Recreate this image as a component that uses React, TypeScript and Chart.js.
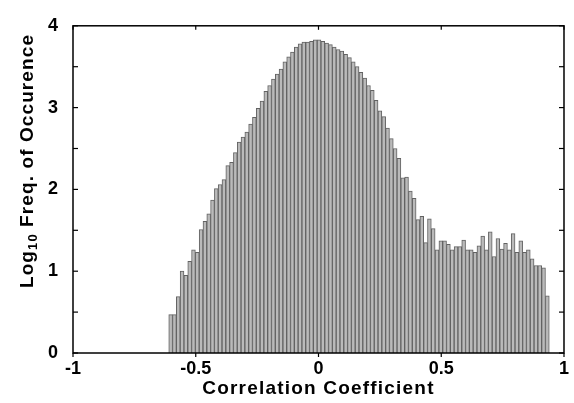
import React, { useEffect, useRef } from 'react';
import { Chart, registerables } from 'chart.js';

Chart.register(...registerables);

// Histogram bins (left edge of first bin and bin width, in correlation units)
const binStart = -0.61;
const binWidth = 0.0155;

// log10 frequency of occurrence per bin
const logFreq = [
  0.47, 0.47, 0.69, 1.0, 0.95, 1.12, 1.26, 1.23, 1.51, 1.61,
  1.7, 1.87, 2.01, 2.06, 2.12, 2.29, 2.33, 2.45, 2.58, 2.64,
  2.7, 2.8, 2.88, 2.99, 3.08, 3.2, 3.27, 3.35, 3.41, 3.47,
  3.56, 3.62, 3.68, 3.74, 3.78, 3.8, 3.8, 3.81, 3.83, 3.83,
  3.81, 3.79, 3.77, 3.74, 3.71, 3.69, 3.65, 3.61, 3.56, 3.5,
  3.43, 3.36, 3.27, 3.21, 3.09, 2.96, 2.89, 2.75, 2.62, 2.5,
  2.38, 2.14, 2.15, 1.98, 1.89, 1.63, 1.67, 1.35, 1.64, 1.52,
  1.26, 1.37, 1.37, 1.33, 1.26, 1.3, 1.3, 1.38, 1.26, 1.26,
  1.23, 1.31, 1.43, 1.26, 1.48, 1.18, 1.4, 1.27, 1.34, 1.26,
  1.46, 1.23, 1.37, 1.23, 1.26, 1.15, 1.07, 1.07, 1.04, 0.7,
];

const xTickValues = [-1, -0.5, 0, 0.5, 1];
const yMinorTickValues = [0, 0.5, 1, 1.5, 2, 2.5, 3, 3.5, 4];
const xTitle = 'Correlation Coefficient';
const yTitleMain = 'Log';
const yTitleSub = '10';
const yTitleRest = ' Freq. of Occurence';

const FONT = '"Liberation Sans", Arial, Helvetica, sans-serif';

export default function App() {
  const ref = useRef<HTMLCanvasElement>(null);

  useEffect(() => {
    document.body.style.margin = '0';
    const canvas = ref.current;
    if (!canvas) return;

    const points = logFreq.map((v, i) => ({ x: binStart + (i + 0.5) * binWidth, y: v }));

    const framePlugin = {
      id: 'frame',
      afterDraw(chart: any) {
        const { ctx, chartArea: a, scales } = chart;
        ctx.save();
        ctx.strokeStyle = '#000';
        ctx.lineWidth = 1.5;
        ctx.strokeRect(a.left, a.top, a.right - a.left, a.bottom - a.top);
        ctx.lineWidth = 1.2;
        const seg = (x1: number, y1: number, x2: number, y2: number) => {
          ctx.beginPath();
          ctx.moveTo(x1, y1);
          ctx.lineTo(x2, y2);
          ctx.stroke();
        };
        for (const v of yMinorTickValues) {
          const y = scales.y.getPixelForValue(v);
          seg(a.left, y, a.left + 5, y);
          seg(a.right, y, a.right - 5, y);
        }
        for (const v of xTickValues) {
          const x = scales.x.getPixelForValue(v);
          seg(x, a.bottom, x, a.bottom + 4);
          seg(x, a.top, x, a.top + 4);
        }

        // x title
        ctx.fillStyle = '#000';
        ctx.font = `bold 19px ${FONT}`;
        ctx.textAlign = 'center';
        ctx.textBaseline = 'alphabetic';
        (ctx as any).letterSpacing = '1.2px';
        ctx.fillText(xTitle, (a.left + a.right) / 2, 394);

        // y title with subscript
        (ctx as any).letterSpacing = '1.1px';
        ctx.translate(33, 161);
        ctx.rotate(-Math.PI / 2);
        ctx.textAlign = 'left';
        const bigFont = `bold 19px ${FONT}`;
        const smallFont = `bold 13px ${FONT}`;
        ctx.font = bigFont;
        const w1 = ctx.measureText(yTitleMain).width;
        const w3 = ctx.measureText(yTitleRest).width;
        ctx.font = smallFont;
        const w2 = ctx.measureText(yTitleSub).width;
        const total = w1 + w2 + w3;
        let x = -total / 2;
        ctx.font = bigFont;
        ctx.fillText(yTitleMain, x, 0);
        x += w1;
        ctx.font = smallFont;
        ctx.fillText(yTitleSub, x, 4);
        x += w2;
        ctx.font = bigFont;
        ctx.fillText(yTitleRest, x, 0);
        ctx.restore();
      },
    };

    const chart = new Chart(canvas, {
      type: 'bar',
      data: {
        datasets: [
          {
            data: points as any,
            backgroundColor: '#bababa',
            borderColor: '#626262',
            borderWidth: 1,
            barPercentage: 1,
            categoryPercentage: 1,
          },
        ],
      },
      options: {
        animation: false,
        responsive: false,
        maintainAspectRatio: false,
        layout: { padding: { left: 0, top: 17, right: 10, bottom: 0 } },
        plugins: { legend: { display: false }, tooltip: { enabled: false } },
        scales: {
          x: {
            type: 'linear',
            min: -1,
            max: 1,
            offset: false,
            afterFit: (s: any) => {
              s.height = 50;
            },
            afterBuildTicks: (s: any) => {
              s.ticks = xTickValues.map((v) => ({ value: v }));
            },
            grid: { display: false, drawTicks: false },
            border: { display: false },
            ticks: {
              padding: 5,
              color: '#000',
              font: { family: FONT, size: 18, weight: 'bold' },
              maxRotation: 0,
              callback: (v: any) => String(v),
            },
          },
          y: {
            type: 'linear',
            min: 0,
            max: 4,
            afterFit: (s: any) => {
              s.width = 73;
            },
            grid: { display: false, drawTicks: false },
            border: { display: false },
            ticks: {
              stepSize: 1,
              padding: 15,
              color: '#000',
              font: { family: FONT, size: 18, weight: 'bold' },
            },
          },
        },
      },
      plugins: [framePlugin],
    });

    return () => chart.destroy();
  }, []);

  return <canvas ref={ref} width={574} height={403} style={{ display: 'block' }} />;
}
